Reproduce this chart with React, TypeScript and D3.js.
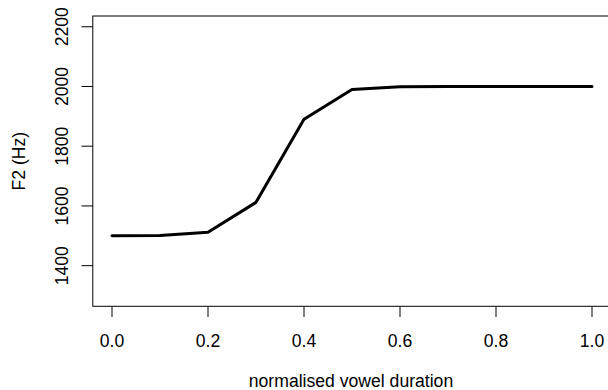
import React from "react";
import * as d3 from "d3";

const timePoints = [0.0, 0.1, 0.2, 0.3, 0.4, 0.5, 0.6, 0.7, 0.8, 0.9, 1.0];
const f2Values = [1500, 1501, 1512, 1612, 1890, 1990, 1999, 2000, 2000, 2000, 2000];
const xTicks = [0.0, 0.2, 0.4, 0.6, 0.8, 1.0];
const yTicks = [1400, 1600, 1800, 2000, 2200];

const W = 608;
const H = 390;
const FONT = "'Liberation Sans', Arial, Helvetica, sans-serif";
const FS = 17.6;

export default function App() {
  // plot region (R pads 4%)
  const x = d3.scaleLinear().domain([-0.04, 1.04]).range([92.8, 611.2]);
  const y = d3.scaleLinear().domain([1264, 2236]).range([306.3, 16]);
  const line = d3
    .line<number>()
    .x((_, i) => x(timePoints[i]))
    .y((d) => y(d));

  return (
    <svg
      width={W}
      height={H}
      style={{ position: "absolute", left: 0, top: 0, background: "#fff" }}
      fontFamily={FONT}
    >
      <rect x={0} y={0} width={W} height={H} fill="#fff" />
      <rect
        x={x(-0.04)}
        y={y(2236)}
        width={x(1.04) - x(-0.04)}
        height={y(1264) - y(2236)}
        fill="none"
        stroke="#000"
        strokeWidth={1}
      />
      <path d={line(f2Values) || ""} fill="none" stroke="#000" strokeWidth={3} strokeLinejoin="round" strokeLinecap="round" />
      {xTicks.map((t) => (
        <g key={"x" + t}>
          <line x1={x(t)} x2={x(t)} y1={306.3} y2={317} stroke="#000" strokeWidth={1} />
          <text x={x(t)} y={346.5} textAnchor="middle" fontSize={FS} fill="#000">
            {t.toFixed(1)}
          </text>
        </g>
      ))}
      {yTicks.map((t) => (
        <g key={"y" + t}>
          <line x1={81.5} x2={92.8} y1={y(t)} y2={y(t)} stroke="#000" strokeWidth={1} />
          <text
            transform={`translate(68,${y(t)}) rotate(-90)`}
            textAnchor="middle"
            fontSize={FS}
            fill="#000"
          >
            {t}
          </text>
        </g>
      ))}
      <text x={x(0.5) - 1} y={387} textAnchor="middle" fontSize={FS} fill="#000">
        normalised vowel duration
      </text>
      <text
        transform={`translate(25,${(16 + 306.3) / 2}) rotate(-90)`}
        textAnchor="middle"
        fontSize={FS}
        fill="#000"
      >
        F2 (Hz)
      </text>
    </svg>
  );
}
